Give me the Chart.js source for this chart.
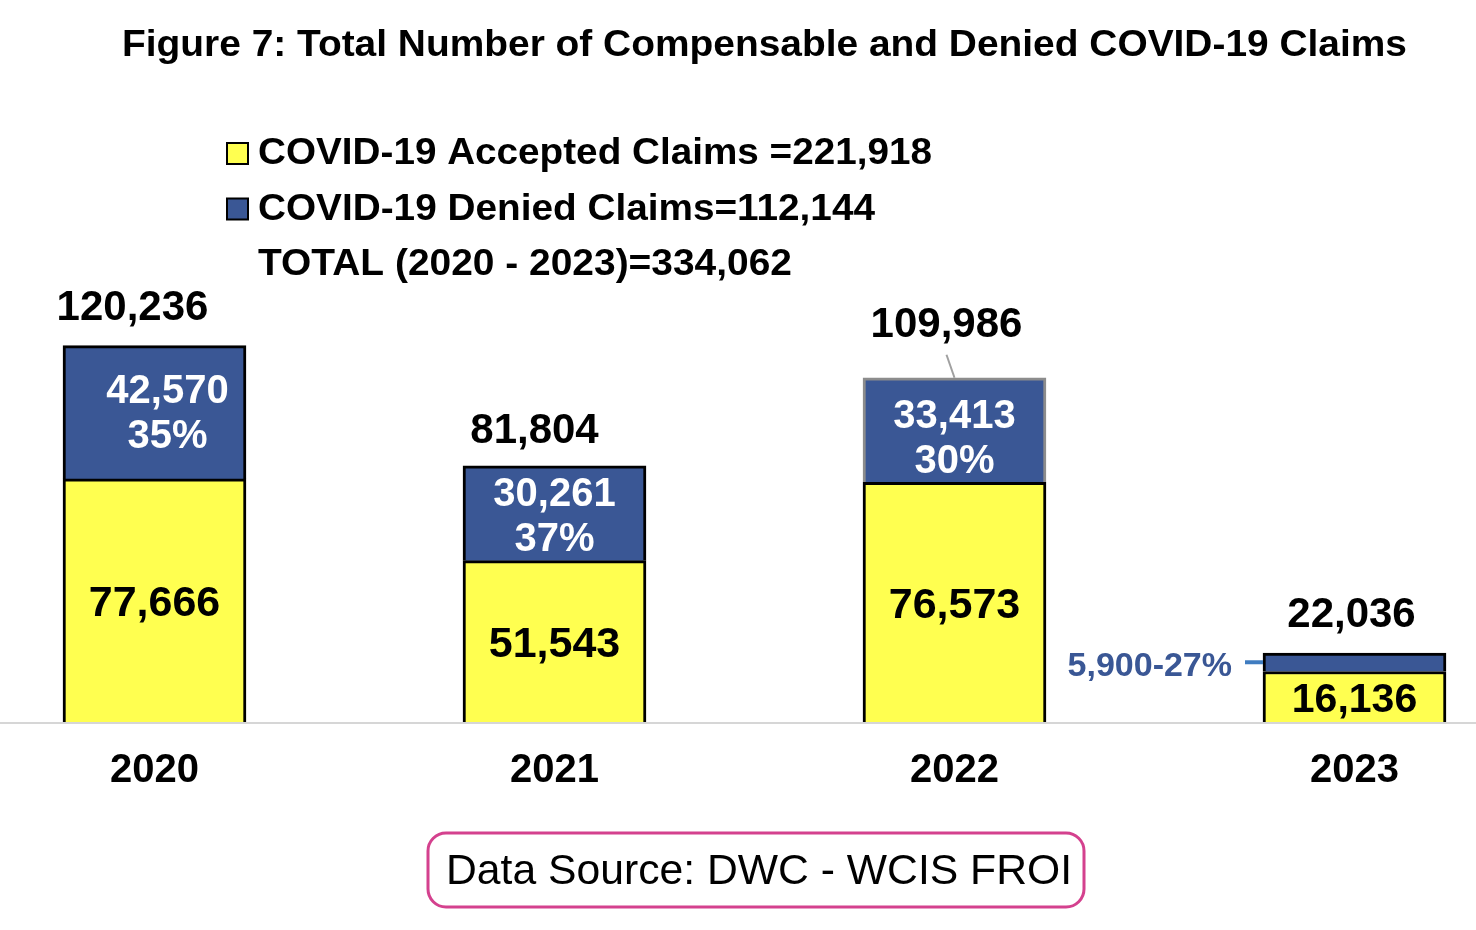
<!DOCTYPE html>
<html>
<head>
<meta charset="utf-8">
<script src="https://cdn.jsdelivr.net/npm/chart.js@4"></script>
<style>
  html, body { margin: 0; padding: 0; background: #fff; }
  #chart { display: block; }
</style>
</head>
<body>
<canvas id="chart" width="1476" height="930"></canvas>
<script>
const years = ["2020", "2021", "2022", "2023"];
const accepted = [77666, 51543, 76573, 16136];
const denied = [42570, 30261, 33413, 5900];
const deniedPct = ["35%", "37%", "30%", "27%"];
const legendLines = [
  "COVID-19 Accepted Claims =221,918",
  "COVID-19 Denied Claims=112,144",
  "TOTAL (2020 - 2023)=334,062",
];
const title = "Figure 7: Total Number of Compensable and Denied COVID-19 Claims";
const source = "Data Source: DWC - WCIS FROI";

const YELLOW = "#FFFF50";
const BLUE = "#3A5795";
const FONT = "'Liberation Sans', Arial, sans-serif";

// label nudges, in pixels: [dx, dy]
const totalShift = [[-22, 37], [-20, 35], [-8, 52], [-3, 38]];
const deniedShift = [[13, 0], [0, 2], [0, 7], [0, 0]];

function fmt(n) {
  return String(n).replace(/\B(?=(\d{3})+(?!\d))/g, ",");
}

// draws left aligned text squeezed/stretched to a given width
function fitText(ctx, text, x, y, width) {
  const w = ctx.measureText(text).width;
  ctx.save();
  ctx.translate(x, y);
  ctx.scale(width / w, 1);
  ctx.textAlign = "left";
  ctx.fillText(text, 0, 0);
  ctx.restore();
}

const figureText = {
  id: "figureText",
  beforeDatasetsDraw(chart) {
    const { ctx, scales } = chart;
    const y0 = scales.y.getPixelForValue(0);
    ctx.save();
    ctx.strokeStyle = "#d6d6d6";
    ctx.lineWidth = 2;
    ctx.beginPath();
    ctx.moveTo(0, y0 + 1);
    ctx.lineTo(chart.width, y0 + 1);
    ctx.stroke();
    ctx.restore();
  },
  afterDraw(chart) {
    const { ctx } = chart;
    ctx.save();

    // title
    ctx.fillStyle = "#000";
    ctx.textBaseline = "alphabetic";
    ctx.font = `bold 36px ${FONT}`;
    fitText(ctx, title, 122, 56, 1285);

    // legend
    const swatches = [YELLOW, BLUE];
    const baselines = [164, 219.5, 275];
    const widths = [674, 617, 534];
    legendLines.forEach((line, i) => {
      if (swatches[i]) {
        ctx.fillStyle = swatches[i];
        ctx.fillRect(227, baselines[i] - 21, 21, 21);
        ctx.strokeStyle = "#000";
        ctx.lineWidth = 2;
        ctx.strokeRect(227, baselines[i] - 21, 21, 21);
      }
      ctx.fillStyle = "#000";
      ctx.font = `bold 36px ${FONT}`;
      fitText(ctx, line, 258, baselines[i], widths[i]);
    });

    // bar labels
    const acc = chart.getDatasetMeta(0).data;
    const den = chart.getDatasetMeta(1).data;
    ctx.textAlign = "center";
    ctx.textBaseline = "middle";
    years.forEach((year, i) => {
      const a = acc[i];
      const d = den[i];

      ctx.fillStyle = "#000";
      ctx.font = `bold ${i === 3 ? 41 : 43}px ${FONT}`;
      ctx.fillText(fmt(accepted[i]), a.x, (a.y + a.base) / 2 + 4);

      const mid = (d.y + d.base) / 2 + deniedShift[i][1];
      if (d.base - d.y > 60) {
        const x = d.x + deniedShift[i][0];
        ctx.fillStyle = "#fff";
        ctx.font = `bold 40px ${FONT}`;
        ctx.fillText(fmt(denied[i]), x, mid - 20);
        ctx.fillText(deniedPct[i], x, mid + 25);
      } else {
        // segment too thin, label goes to the left with a dash
        const left = d.x - d.width / 2;
        ctx.strokeStyle = "#3F7CC0";
        ctx.lineWidth = 4;
        ctx.beginPath();
        ctx.moveTo(left - 18, mid);
        ctx.lineTo(left, mid);
        ctx.stroke();
        ctx.fillStyle = BLUE;
        ctx.font = `bold 34px ${FONT}`;
        ctx.textAlign = "right";
        ctx.fillText(fmt(denied[i]) + "-" + deniedPct[i], left - 31, mid + 4);
        ctx.textAlign = "center";
      }

      const total = accepted[i] + denied[i];
      const [dx, rise] = totalShift[i];
      ctx.fillStyle = "#000";
      ctx.font = `bold 42px ${FONT}`;
      ctx.fillText(fmt(total), d.x + dx, d.y - rise);
      if (rise > 45) {
        ctx.strokeStyle = "#a0a0a0";
        ctx.lineWidth = 2;
        ctx.beginPath();
        ctx.moveTo(d.x - 8, d.y - 23);
        ctx.lineTo(d.x, d.y);
        ctx.stroke();
      }
    });

    // source box
    ctx.strokeStyle = "#D4418E";
    ctx.lineWidth = 3;
    ctx.beginPath();
    ctx.roundRect(428, 833, 656, 74, 18);
    ctx.stroke();
    ctx.fillStyle = "#000";
    ctx.textBaseline = "alphabetic";
    ctx.font = `42px ${FONT}`;
    fitText(ctx, source, 446, 884, 626);

    ctx.restore();
  },
};

new Chart(document.getElementById("chart"), {
  type: "bar",
  data: {
    labels: years,
    datasets: [
      {
        label: "COVID-19 Accepted Claims",
        data: accepted,
        backgroundColor: YELLOW,
        borderColor: "#000",
        borderWidth: 3,
        clip: false,
      },
      {
        label: "COVID-19 Denied Claims",
        data: denied,
        backgroundColor: BLUE,
        borderColor: ["#000", "#000", "#8c8c8c", "#000"],
        borderWidth: 3,
        clip: false,
      },
    ],
  },
  options: {
    responsive: false,
    animation: false,
    events: [],
    barThickness: 183,
    layout: {
      padding: { left: 154.5, right: 121.5, top: 96, bottom: 110 },
    },
    plugins: {
      legend: { display: false },
      title: { display: false },
      tooltip: { enabled: false },
    },
    scales: {
      x: {
        stacked: true,
        offset: false,
        grid: { display: false, drawTicks: false },
        border: { display: false },
        ticks: {
          color: "#000",
          padding: 25,
          font: { family: FONT, size: 40, weight: "bold" },
        },
      },
      y: {
        stacked: true,
        display: false,
        min: 0,
        max: 200000,
      },
    },
  },
  plugins: [figureText],
});
</script>
</body>
</html>
